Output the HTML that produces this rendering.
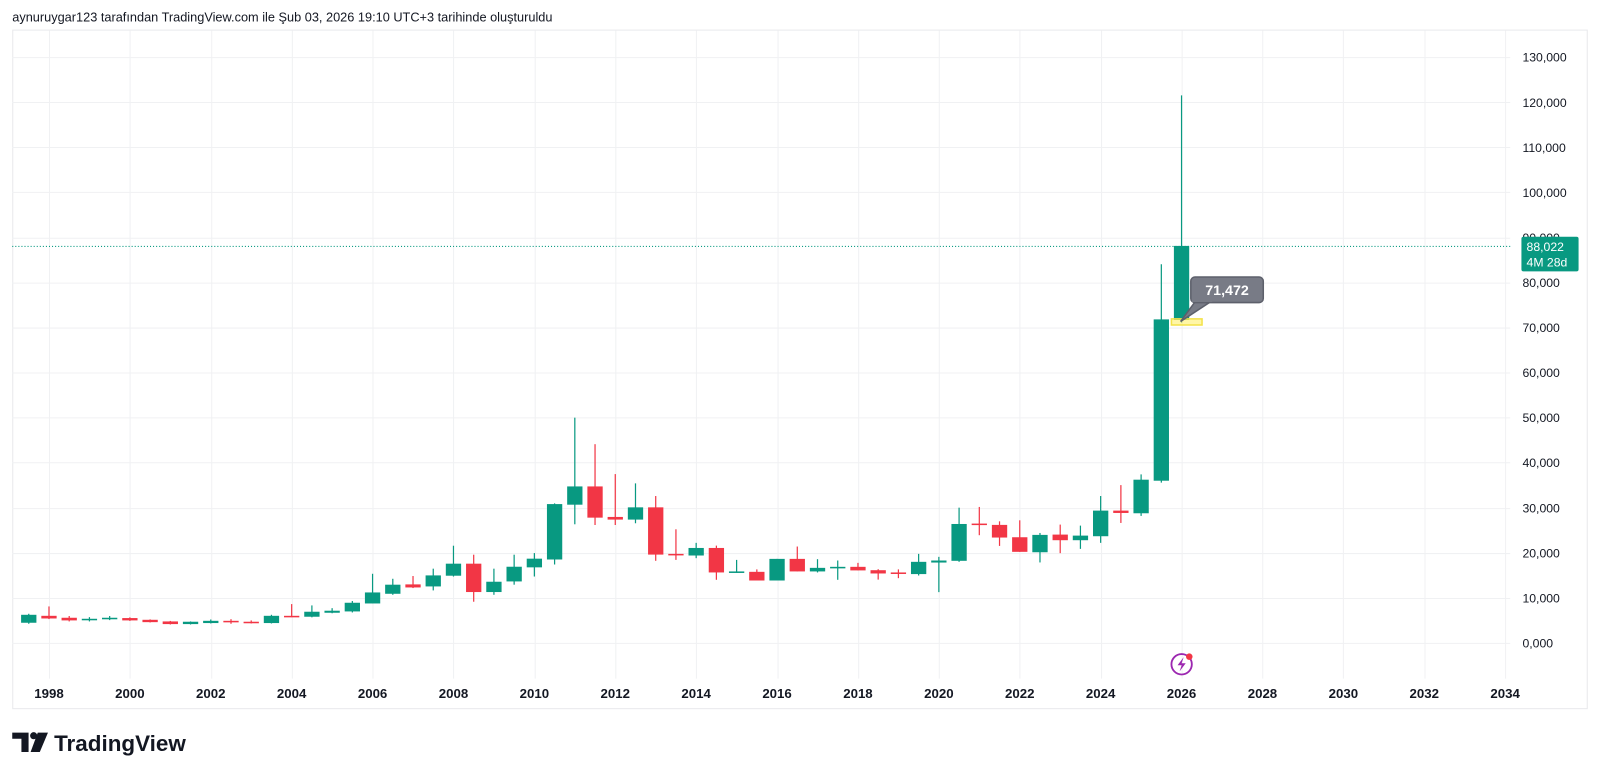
<!DOCTYPE html>
<html><head><meta charset="utf-8">
<style>
html,body{margin:0;padding:0;background:#fff;}
body{width:1600px;height:776px;overflow:hidden;position:relative;font-family:"Liberation Sans",sans-serif;}
svg{position:absolute;left:0;top:0;}
</style></head>
<body>
<svg id="s" width="1600" height="776" viewBox="0 0 1568 760.48" xmlns="http://www.w3.org/2000/svg">
<text x="12" y="21" font-size="12.5" fill="#131722" font-family="Liberation Sans, DejaVu Sans, sans-serif">aynuruygar123 tarafından TradingView.com ile Şub 03, 2026 19:10 UTC+3 tarihinde oluşturuldu</text>
<rect x="12.5" y="29.5" width="1543" height="665" fill="none" stroke="#e8e9ec"/>
<g id="grid" stroke="#f0f1f3" stroke-width="1"></g>
<g id="cd"></g>
<line x1="12" y1="241.5" x2="1480" y2="241.5" stroke="#089981" stroke-width="1" stroke-dasharray="1,2"/>
<g id="lab" font-size="12" fill="#131722"></g>
<g id="xl" font-size="13" font-weight="bold" fill="#131722"></g>
<rect x="1491" y="232" width="56" height="34" rx="2" fill="#089981"/>
<text x="1496" y="246" font-size="12" fill="#fff">88,022</text>
<text x="1496" y="261" font-size="12" fill="#fff">4M 28d</text>
<rect x="1148" y="312.5" width="30" height="6" fill="rgba(255,235,59,0.45)" stroke="#f3e24a" stroke-width="1.5"/>
<path d="M1171,296 L1157,315 L1186,296 Z" fill="#787b86" stroke="#5d606b" stroke-width="1.5"/>
<rect x="1167" y="271.5" width="71" height="25" rx="4" fill="#787b86" stroke="#5d606b" stroke-width="1.5"/>
<rect x="1168" y="293" width="20" height="3" fill="#787b86"/>
<text x="1202.5" y="289" font-size="14" font-weight="bold" fill="#fff" text-anchor="middle">71,472</text>
<circle cx="1158" cy="651" r="10" fill="none" stroke="#9c27b0" stroke-width="1.8"/>
<path d="M1160,644 L1154,652 L1158,652 L1156,658 L1162,650 L1158,650 Z" fill="#9c27b0"/>
<circle cx="1165.5" cy="643.5" r="3.2" fill="#f23645"/>
<path d="M12,718 H28 V737 H21 V724 H12 Z" fill="#131722"/>
<circle cx="33" cy="721" r="3.5" fill="#131722"/>
<path d="M37,718 H47 L39,737 H30 Z" fill="#131722"/>
<text x="53" y="736" font-size="22" font-weight="bold" fill="#131722">TradingView</text>
</svg>
<script>
var NS="http://www.w3.org/2000/svg";
function el(p,t,a,txt){var e=document.createElementNS(NS,t);for(var k in a)e.setAttribute(k,a[k]);if(txt)e.textContent=txt;document.getElementById(p).appendChild(e);}
for(var i=0;i<=13;i++){var y=630-i*44.154;el("grid","line",{x1:12,x2:1480,y1:Math.round(y)+.5,y2:Math.round(y)+.5});
 var v=i*10000;var s=i==0?"0,000":(v/1000)+",000";el("lab","text",{x:1492,y:y+4.5},s);}
for(var j=0;j<19;j++){var x=48+j*79.28;el("grid","line",{x1:Math.round(x)+.5,x2:Math.round(x)+.5,y1:30,y2:665});
 el("xl","text",{x:x,y:684,"text-anchor":"middle"},String(1998+2*j));}
var d=[[-1,'G',610.3,602.5,601.5,611.3],[0,'R',603.5,606.1,594.3,606.7],[1,'R',605.4,608,603.7,609],[2,'G',607.4,606.4,604.8,609],[3,'G',606.4,605.4,603.7,607.7],[4,'R',605.7,608,605,608.5],[5,'R',607.4,609.7,607,610],[6,'R',609,611.6,608.5,612],[7,'G',611.6,609.3,609,612],[8,'G',610.6,608.4,607.1,611],[9,'R',608.4,609.3,606.8,611.3],[10,'R',609.3,610.6,608,611],[11,'G',610.6,603.5,602.5,611],[12,'R',603.5,604.8,592,604.8],[13,'G',604.4,599.5,593.3,605],[14,'G',600.5,598.5,596,601],[15,'G',599.2,590.7,589,600.2],[16,'G',591.4,580.6,562.3,591.4],[17,'G',581.9,573,567.2,582.9],[18,'R',572.7,575.7,564.5,576.3],[19,'G',574.7,563.9,557.3,578.6],[20,'G',564.2,552.4,534.8,565],[21,'R',552.4,580.2,543.6,589.7],[22,'G',580.2,570.1,557.3,582.9],[23,'G',569.8,555.4,543.6,573],[24,'G',556,547.5,542,565],[25,'G',548.3,494,493.3,553.2],[26,'G',494.6,476.7,409.3,513.8],[27,'R',476.7,507.3,435.3,514.5],[28,'R',506.6,509.2,464.6,514.5],[29,'G',509.2,497.2,473.7,512.8],[30,'R',497.2,543.5,486.1,549.6],[31,'R',542.8,544.1,518.7,548.7],[32,'G',544.4,537,532,547],[33,'R',537,561,534.7,568.2],[34,'G',561.4,560,548.7,561.4],[35,'R',560.4,568.9,558,568.9],[36,'G',568.9,547.7,547.7,568.9],[37,'R',547.7,560,535.6,560],[38,'G',560,556.5,548,561],[39,'G',556.8,555.5,549.3,568.2],[40,'R',555.5,559,551.6,559],[41,'R',558.8,562,557.8,568],[42,'R',561,562,558,566.6],[43,'G',562.6,550.6,542.8,564],[44,'G',551.3,549.3,545.7,580.3],[45,'G',549.6,513.5,497.5,550.6],[46,'R',513.1,514.4,496.8,524.5],[47,'R',514.4,526.8,510.9,535],[48,'R',526.5,540.8,509.9,540.8],[49,'G',541.2,524.2,522.3,551.2],[50,'R',523.9,529.4,514.1,542.1],[51,'G',529.4,524.9,515.1,537.9],[52,'G',525.5,500.4,486.1,532],[53,'R',500.4,502.7,475.4,512.5],[54,'G',503,470.1,464.9,505.6],[55,'G',471.1,313,259,473],[56,'G',313.5,241,93.5,316]];
d.forEach(function(c){var x=48+c[0]*19.82;var col=c[1]=='G'?'#089981':'#f23645';
 var t=Math.min(c[2],c[3]),b=Math.max(c[2],c[3]);if(b-t<1.5){b=t+1.5;}
 el("cd","line",{x1:x,x2:x,y1:c[4],y2:c[5],stroke:col,"stroke-width":1.2});
 el("cd","rect",{x:x-7.5,y:t,width:15,height:b-t,fill:col});});
</script>
</body></html>
